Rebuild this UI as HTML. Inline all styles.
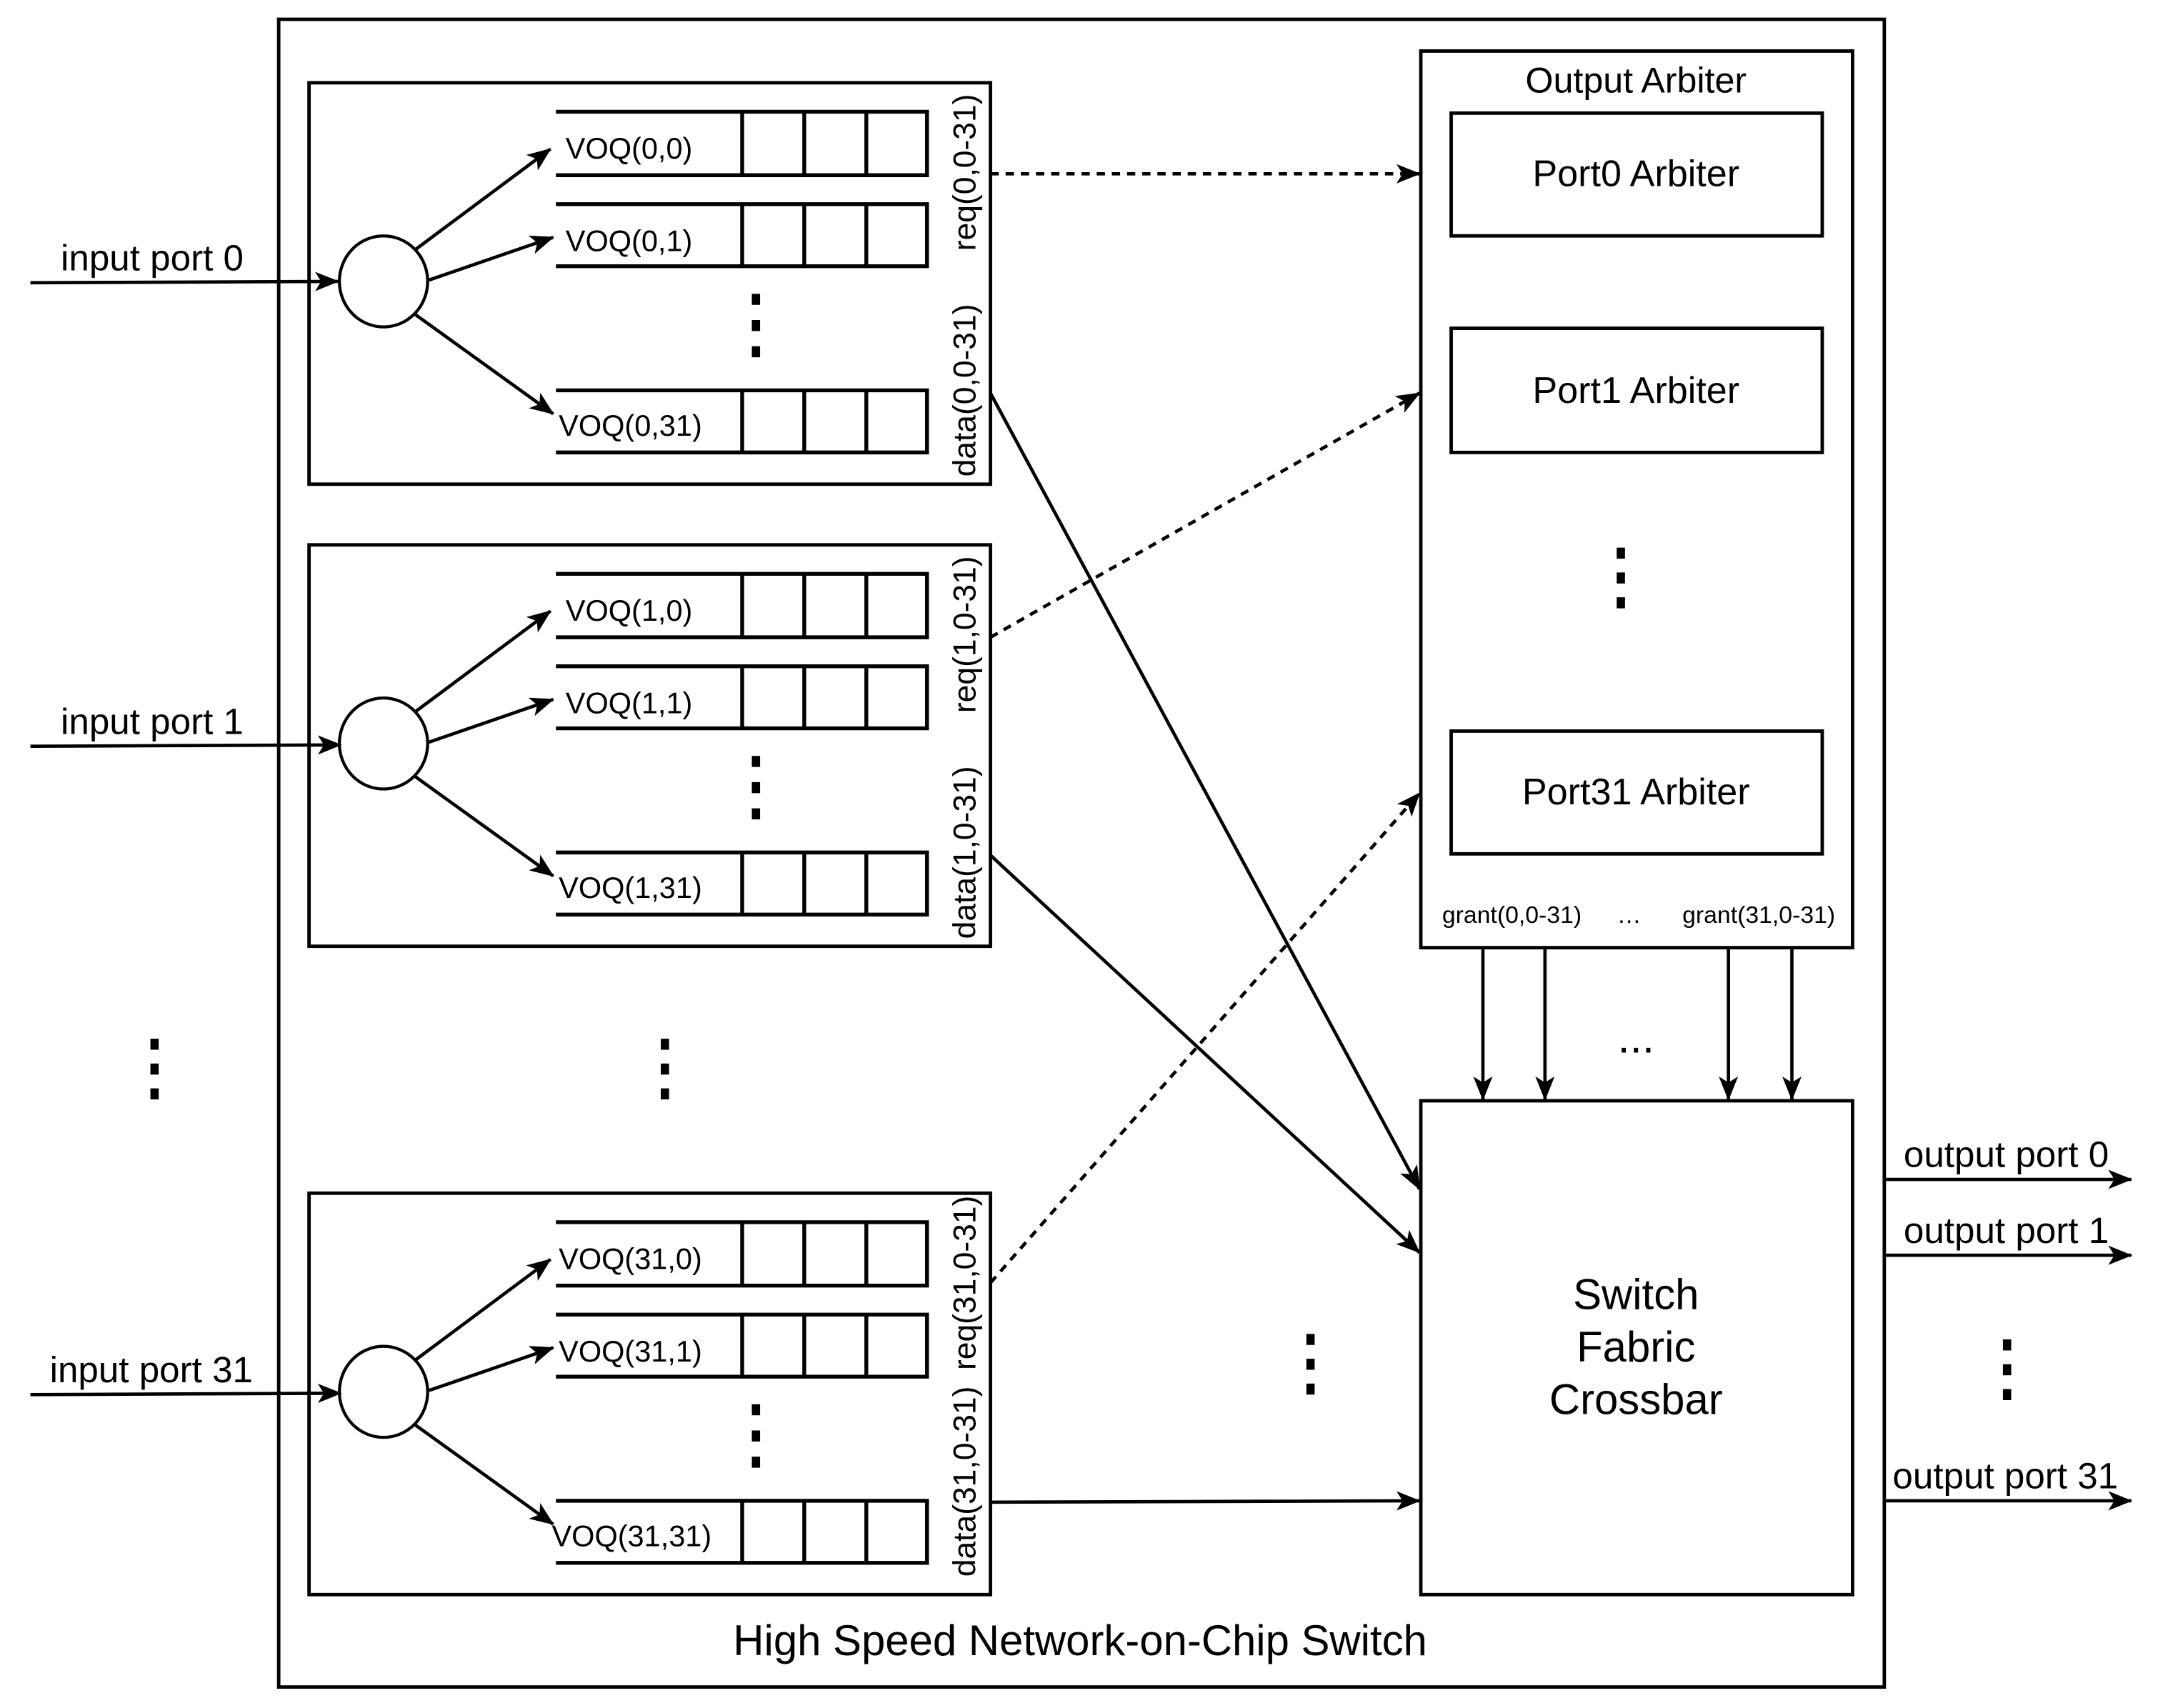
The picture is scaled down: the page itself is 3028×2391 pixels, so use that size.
<!DOCTYPE html>
<html><head><meta charset="utf-8"><style>html,body{margin:0;padding:0;background:#fff}svg{display:block}</style></head>
<body>
<svg xmlns="http://www.w3.org/2000/svg" width="3028" height="2391" viewBox="0 0 1568 1238.2" font-family="Liberation Sans, sans-serif">
<defs>
<marker id="b" viewBox="0 0 20 16" refX="19" refY="8" markerWidth="18" markerHeight="14" markerUnits="userSpaceOnUse" orient="auto">
<path d="M0,0 L20,8 L0,16 L5,8 Z" fill="#000"/></marker>
<g id="blk">
<rect x="224" y="0" width="494" height="291" fill="none" stroke="#000" stroke-width="2.5"/>
<ellipse cx="278" cy="144" rx="32" ry="33" fill="none" stroke="#000" stroke-width="2.2"/>
<g stroke="#000" stroke-width="2.4" fill="none">
<line x1="301" y1="121" x2="399" y2="48" marker-end="url(#b)"/>
<line x1="311" y1="143" x2="401" y2="112" marker-end="url(#b)"/>
<line x1="301" y1="168" x2="401" y2="240" marker-end="url(#b)"/>
</g>
<g stroke="#000" stroke-width="2.8" fill="none">
<path d="M403,21 H672 V67 H403 M538,21 V67 M583,21 V67 M628,21 V67"/>
<path d="M403,88 H672 V133 H403 M538,88 V133 M583,88 V133 M628,88 V133"/>
<path d="M403,223 H672 V268 H403 M538,223 V268 M583,223 V268 M628,223 V268"/>
</g>
<g fill="#000"><rect x="545" y="153" width="6" height="8"/><rect x="545" y="172" width="6" height="8"/><rect x="545" y="191" width="6" height="8"/></g>
</g>
</defs>
<rect x="202" y="14" width="1164" height="1209" fill="none" stroke="#000" stroke-width="2.5"/>
<use href="#blk" y="60"/>
<use href="#blk" y="395"/>
<use href="#blk" y="865"/>
<g font-size="21.5">
<text x="410" y="115">VOQ(0,0)</text><text x="410" y="182">VOQ(0,1)</text><text x="405" y="316">VOQ(0,31)</text>
<text x="410" y="450">VOQ(1,0)</text><text x="410" y="517">VOQ(1,1)</text><text x="405" y="651">VOQ(1,31)</text>
<text x="405" y="920">VOQ(31,0)</text><text x="405" y="987">VOQ(31,1)</text><text x="400" y="1121">VOQ(31,31)</text>
</g>
<g font-size="23" text-anchor="middle">
<text transform="translate(707,125) rotate(-90)">req(0,0-31)</text>
<text transform="translate(707,283) rotate(-90)">data(0,0-31)</text>
<text transform="translate(707,460) rotate(-90)">req(1,0-31)</text>
<text transform="translate(707,618) rotate(-90)">data(1,0-31)</text>
<text transform="translate(707,930) rotate(-90)">req(31,0-31)</text>
<text transform="translate(707,1074) rotate(-90)">data(31,0-31)</text>
</g>
<g stroke="#000" stroke-width="2.4" fill="none">
<line x1="22" y1="205" x2="245" y2="204" marker-end="url(#b)"/>
<line x1="22" y1="541" x2="247" y2="540" marker-end="url(#b)"/>
<line x1="22" y1="1011" x2="247" y2="1010" marker-end="url(#b)"/>
</g>
<g font-size="26.5">
<text x="44" y="196">input port 0</text>
<text x="44" y="532">input port 1</text>
<text x="36" y="1002">input port 31</text>
<text x="1380" y="846">output port 0</text>
<text x="1380" y="901">output port 1</text>
<text x="1372" y="1079">output port 31</text>
</g>
<g fill="#000">
<rect x="109" y="753" width="6" height="8"/><rect x="109" y="771" width="6" height="8"/><rect x="109" y="789" width="6" height="8"/>
<rect x="479" y="753" width="6" height="8"/><rect x="479" y="771" width="6" height="8"/><rect x="479" y="789" width="6" height="8"/>
<rect x="947" y="967" width="6" height="8"/><rect x="947" y="985" width="6" height="8"/><rect x="947" y="1003" width="6" height="8"/>
<rect x="1452" y="971" width="6" height="8"/><rect x="1452" y="989" width="6" height="8"/><rect x="1452" y="1007" width="6" height="8"/>
<rect x="1172" y="397" width="6" height="8"/><rect x="1172" y="415" width="6" height="8"/><rect x="1172" y="433" width="6" height="8"/>
</g>
<rect x="1030" y="37" width="313" height="650" fill="none" stroke="#000" stroke-width="2.5"/>
<text x="1186" y="67" font-size="26" text-anchor="middle">Output Arbiter</text>
<g fill="none" stroke="#000" stroke-width="2.5">
<rect x="1052" y="82" width="269" height="89"/>
<rect x="1052" y="238" width="269" height="90"/>
<rect x="1052" y="530" width="269" height="89"/>
<rect x="1030" y="798" width="313" height="358"/>
</g>
<g font-size="27" text-anchor="middle">
<text x="1186" y="135">Port0 Arbiter</text>
<text x="1186" y="292">Port1 Arbiter</text>
<text x="1186" y="583">Port31 Arbiter</text>
</g>
<g font-size="31" text-anchor="middle">
<text x="1186" y="949">Switch</text>
<text x="1186" y="987">Fabric</text>
<text x="1186" y="1025">Crossbar</text>
</g>
<g font-size="17.5" text-anchor="middle">
<text x="1096" y="669">grant(0,0-31)</text>
<text x="1181" y="669">…</text>
<text x="1275" y="669">grant(31,0-31)</text>
</g>
<text x="1186" y="763" font-size="32" text-anchor="middle">...</text>
<text x="783" y="1200" font-size="31" text-anchor="middle">High Speed Network-on-Chip Switch</text>
<g stroke="#000" stroke-width="2.4" fill="none">
<line x1="1075" y1="687" x2="1075" y2="797" marker-end="url(#b)"/>
<line x1="1120" y1="687" x2="1120" y2="797" marker-end="url(#b)"/>
<line x1="1253" y1="687" x2="1253" y2="797" marker-end="url(#b)"/>
<line x1="1299" y1="687" x2="1299" y2="797" marker-end="url(#b)"/>
<line x1="1366" y1="855" x2="1545" y2="855" marker-end="url(#b)"/>
<line x1="1366" y1="910" x2="1545" y2="910" marker-end="url(#b)"/>
<line x1="1366" y1="1088" x2="1545" y2="1088" marker-end="url(#b)"/>
<line x1="718" y1="285" x2="1029" y2="862" marker-end="url(#b)"/>
<line x1="718" y1="620" x2="1029" y2="908" marker-end="url(#b)"/>
<line x1="718" y1="1089" x2="1029" y2="1088" marker-end="url(#b)"/>
</g>
<g stroke="#000" stroke-width="2.4" fill="none" stroke-dasharray="6,5">
<line x1="718" y1="126" x2="1029" y2="126" marker-end="url(#b)"/>
<line x1="718" y1="462" x2="1029" y2="285" marker-end="url(#b)"/>
<line x1="718" y1="930" x2="1029" y2="575" marker-end="url(#b)"/>
</g>
</svg>
</body></html>
